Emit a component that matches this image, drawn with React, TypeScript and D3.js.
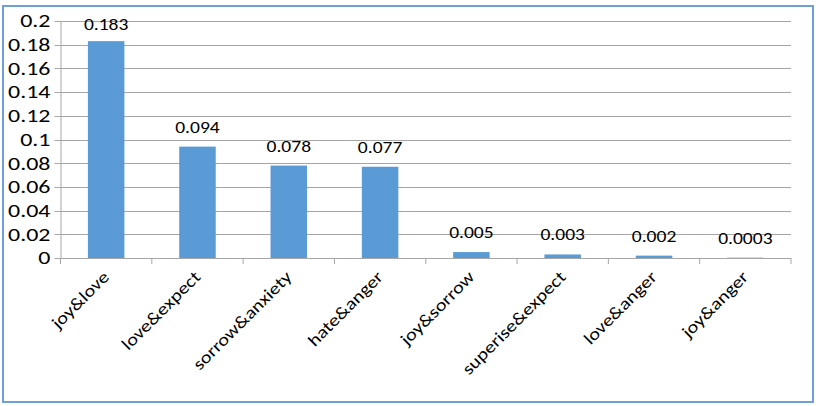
import React from "react";
import * as d3 from "d3";

const categories = ["joy&love", "love&expect", "sorrow&anxiety", "hate&anger", "joy&sorrow", "superise&expect", "love&anger", "joy&anger"];
const values = [0.183, 0.094, 0.078, 0.077, 0.005, 0.003, 0.002, 0.0003];
const valueLabels = ["0.183", "0.094", "0.078", "0.077", "0.005", "0.003", "0.002", "0.0003"];
const yTicks = [0, 0.02, 0.04, 0.06, 0.08, 0.1, 0.12, 0.14, 0.16, 0.18, 0.2];

const W = 819, H = 406;
const left = 60.5, right = 791, top = 21, bottom = 258;
const font = "Carlito, Lato, Calibri, 'Liberation Sans', Arial, sans-serif";

export default function App() {
  const x = d3.scaleBand<string>().domain(categories).range([left, right]).paddingInner(0.6).paddingOuter(0.3);
  const xb = d3.scaleBand<string>().domain(categories).range([left, right]);
  const y = d3.scaleLinear().domain([0, 0.2]).range([bottom, top]);
  const fmt = (v: number) => (v === 0 ? "0" : d3.format("~g")(v));
  return (
    <svg width={W} height={H} style={{ position: "absolute", left: 0, top: 0, background: "#fff" }}>
      <rect x={3} y={6} width={810} height={396} fill="#fff" stroke="#6f9fd8" strokeWidth={2} />
      {yTicks.map((t) => (
        <g key={t}>
          <line x1={left - 6} x2={right} y1={Math.round(y(t)) + 0.5} y2={Math.round(y(t)) + 0.5} stroke="#a6a6a6" strokeWidth={1} />
          <text transform={`translate(${left - 10},${y(t)}) scale(1.33,1)`} dy="0.35em" textAnchor="end" fontFamily={font} fontSize={18} fill="#000">{fmt(t)}</text>
        </g>
      ))}
      <line x1={left + 0.5} x2={left + 0.5} y1={top} y2={bottom} stroke="#a6a6a6" />
      {categories.map((c) => (
        <line key={"t" + c} x1={xb(c)!} x2={xb(c)!} y1={bottom} y2={bottom + 6} stroke="#a6a6a6" />
      ))}
      <line x1={right} x2={right} y1={bottom} y2={bottom + 6} stroke="#a6a6a6" />
      {categories.map((c, i) => (
        <rect key={"b" + c} x={x(c)!} y={y(values[i])} width={x.bandwidth()} height={bottom - y(values[i])} fill="#5b9bd5" />
      ))}
      {categories.map((c, i) => (
        <text key={"v" + c} transform={`translate(${x(c)! + x.bandwidth() / 2},${Math.max(y(values[i]) - 14, top + 9)}) scale(1.15,1)`} textAnchor="middle" fontFamily={font} fontSize={17} fill="#000">{valueLabels[i]}</text>
      ))}
      {categories.map((c) => {
        const cx = xb(c)! + xb.bandwidth() / 2 + 4;
        const cy = bottom + 20;
        return (
          <text key={"c" + c} transform={`translate(${cx},${cy}) rotate(-45) scale(1.2,1)`} textAnchor="end" fontFamily={font} fontSize={17} fill="#000">{c}</text>
        );
      })}
    </svg>
  );
}
